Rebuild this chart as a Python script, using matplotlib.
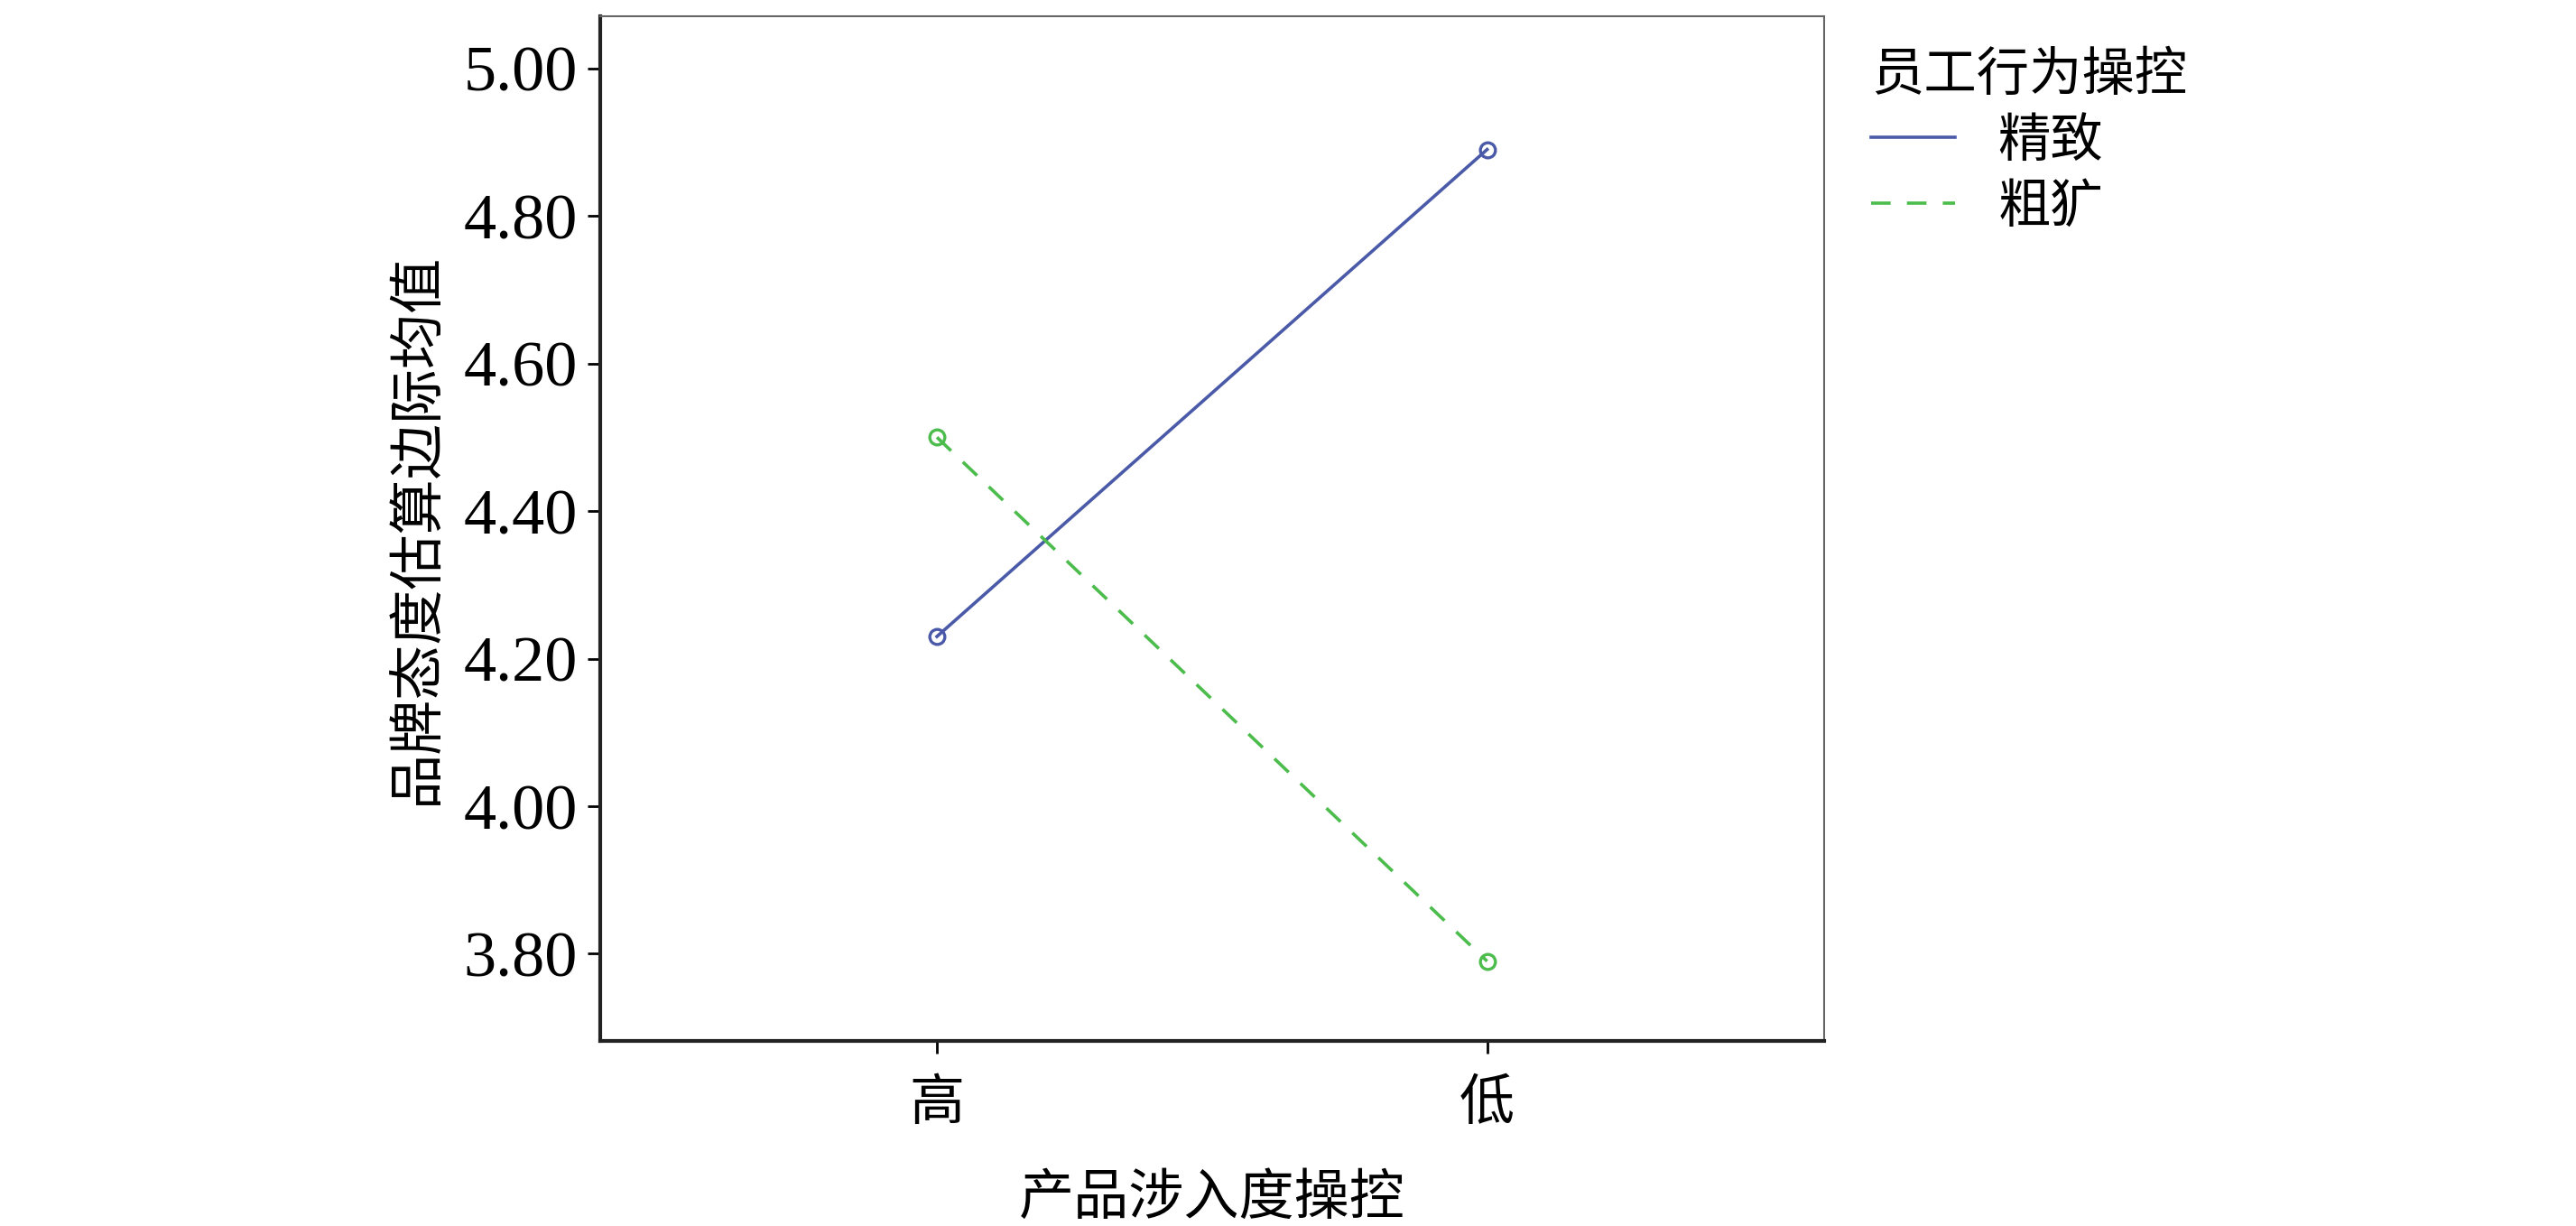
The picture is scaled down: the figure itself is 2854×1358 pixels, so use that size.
import matplotlib
matplotlib.use("Agg")
import matplotlib.pyplot as plt

categories = ["高", "低"]
series_names = ["精致", "粗犷"]
fine = [4.23, 4.89]
rough = [4.50, 3.79]
yticks = [3.80, 4.00, 4.20, 4.40, 4.60, 4.80, 5.00]

cjk = ['Noto Sans CJK SC', 'DejaVu Sans']
fig = plt.figure(figsize=(28.54, 13.58), dpi=100)
ax = fig.add_axes([0.233, 0.151, 0.475, 0.836])
x = [0, 1]
ax.plot(x, fine, color="#4a5aa8", lw=2.6, marker="o", ms=12, mfc="none", mew=2.4, label=series_names[0])
ax.plot(x, rough, color="#4cbc4c", lw=2.6, ls=(0, (6, 5)), marker="o", ms=12, mfc="none", mew=2.4, label=series_names[1])
ax.set_xlim(-0.612, 1.612)
ax.set_ylim(3.682, 5.071)
ax.set_xticks(x)
ax.set_xticklabels(categories, fontsize=44, family=cjk)
ax.set_yticks(yticks)
ax.set_yticklabels([f"{v:.2f}" for v in yticks], fontsize=52, family="Liberation Serif")
ax.tick_params(length=10, width=2, pad=8)
ax.tick_params(axis='x', pad=18)
ax.set_xlabel("产品涉入度操控", fontsize=44, family=cjk, labelpad=30)
ax.set_ylabel("品牌态度估算边际均值", fontsize=44, family=cjk, labelpad=14)
for s in ["left", "bottom"]:
    ax.spines[s].set_linewidth(3)
    ax.spines[s].set_color("#222222")
for s in ["top", "right"]:
    ax.spines[s].set_linewidth(1.5)
    ax.spines[s].set_color("#666666")
leg = ax.legend(loc="upper left", bbox_to_anchor=(1.0, 1.015), frameon=False,
                prop={'family': cjk, 'size': 42}, title="员工行为操控",
                handlelength=1.6, handletextpad=0.8, labelspacing=0.2)
leg.get_title().set_fontproperties({'family': cjk, 'size': 42})
leg._legend_box.align = "left"
for h in leg.legend_handles:
    h.set_marker("")
fig.savefig("out.png", dpi=100)
